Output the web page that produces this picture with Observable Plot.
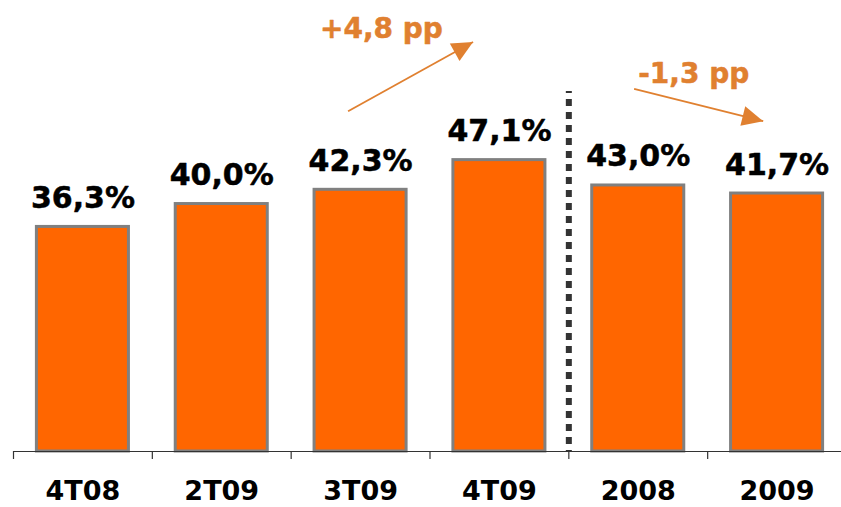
<!DOCTYPE html>
<html>
<head>
<meta charset="utf-8">
<script src="https://cdn.jsdelivr.net/npm/d3@7"></script>
<script src="https://cdn.jsdelivr.net/npm/@observablehq/plot@0.6"></script>
<style>
  html, body { margin: 0; padding: 0; background: #ffffff; }
  #chart { width: 841px; height: 507px; overflow: hidden; }
</style>
</head>
<body>
<div id="chart"></div>
<script>
// ---- data ----
const categories = ["4T08", "2T09", "3T09", "4T09", "2008", "2009"];
const values = [36.3, 40.0, 42.3, 47.1, 43.0, 41.7];
const valueLabels = ["36,3%", "40,0%", "42,3%", "47,1%", "43,0%", "41,7%"];

// annotation arrows (x in category-index units, y in % units)
const arrowFromX = [1.91, 3.97];
const arrowFromY = [55.0, 58.6];
const arrowToX = [2.81, 4.90];
const arrowToY = [66.2, 53.4];
const annotationText = ["+4,8 pp", "-1,3 pp"];
const annotationX = [2.15, 4.40];
const annotationY = [66.9, 59.6];

// separator between quarters and years
const separatorBefore = ["2008"];
const separatorTop = [58.2];

// ---- build tables ----
const bars = categories.map((c, i) => ({i, cat: c, value: values[i], label: valueLabels[i]}));
const arrows = arrowFromX.map((x, k) => ({x1: x, y1: arrowFromY[k], x2: arrowToX[k], y2: arrowToY[k]}));
const notes = annotationText.map((t, k) => ({x: annotationX[k], y: annotationY[k], text: t}));
const boundaries = categories.map((c, i) => i - 0.5);
const separators = separatorBefore.map((c, k) => ({x: categories.indexOf(c) - 0.5, top: separatorTop[k]}));

const ORANGE = "#FF6600";
const ANNOT = "#E08030";
const FONT = "'DejaVu Sans', Verdana, sans-serif";

const plot = Plot.plot({
  width: 841,
  height: 507,
  marginTop: 0,
  marginRight: 0,
  marginBottom: 56,
  marginLeft: 13,
  style: {fontFamily: FONT, fontWeight: "bold", background: "#ffffff", overflow: "visible"},
  x: {type: "linear", domain: [-0.5, 5.5], range: [13, 846]},
  y: {domain: [0, 72.9], axis: null},
  marks: [
    Plot.rectY(bars, {
      x1: d => d.i - 0.5, x2: d => d.i + 0.5, y: "value",
      insetLeft: 23.4, insetRight: 23.4,
      fill: ORANGE, stroke: "#808080", strokeWidth: 3
    }),
    Plot.ruleY([0], {stroke: "#333333", strokeWidth: 1.2}),
    Plot.ruleX(boundaries, {x: d => d, y1: () => 0, y2: () => 0, insetBottom: -8, stroke: "#333333", strokeWidth: 1.2}),
    Plot.ruleX(separators, {x: "x", y1: () => 0, y2: "top", stroke: "#333333", strokeWidth: 6, strokeDasharray: "7,6", strokeDashoffset: 6}),
    Plot.axisX({
      ticks: categories.map((c, i) => i),
      tickFormat: i => categories[i],
      tickSize: 0, tickPadding: 29, fontSize: 27, fontWeight: "bold", fill: "#000000", label: null
    }),
    Plot.text(bars, {
      x: "i", y: "value", text: "label", dy: -19, lineAnchor: "bottom",
      fontSize: 30, fontWeight: "bold", fill: "#000000", stroke: "#000000", strokeWidth: 0.5
    }),
    Plot.link(arrows, {
      x1: "x1", y1: "y1", x2: "x2", y2: "y2",
      stroke: ANNOT, strokeWidth: 1.8, markerEnd: "arrow"
    }),
    Plot.text(notes, {
      x: "x", y: "y", text: "text", lineAnchor: "bottom",
      fontSize: 28, fontWeight: "bold", fill: ANNOT, stroke: ANNOT, strokeWidth: 0.5
    })
  ]
});

// replace the open arrow marker heads by filled triangles
d3.select(plot).selectAll("marker").each(function() {
  const m = d3.select(this);
  const color = m.attr("stroke") || ANNOT;
  m.attr("viewBox", "-22 -11 22 22")
   .attr("markerWidth", 22).attr("markerHeight", 22)
   .attr("markerUnits", "userSpaceOnUse")
   .attr("refX", 0).attr("refY", 0)
   .attr("fill", color).attr("stroke", "none");
  m.selectAll("path").attr("d", "M-21,-10L0,0L-21,10Z").attr("fill", color).attr("stroke", "none");
});

document.getElementById("chart").appendChild(plot);
</script>
</body>
</html>
